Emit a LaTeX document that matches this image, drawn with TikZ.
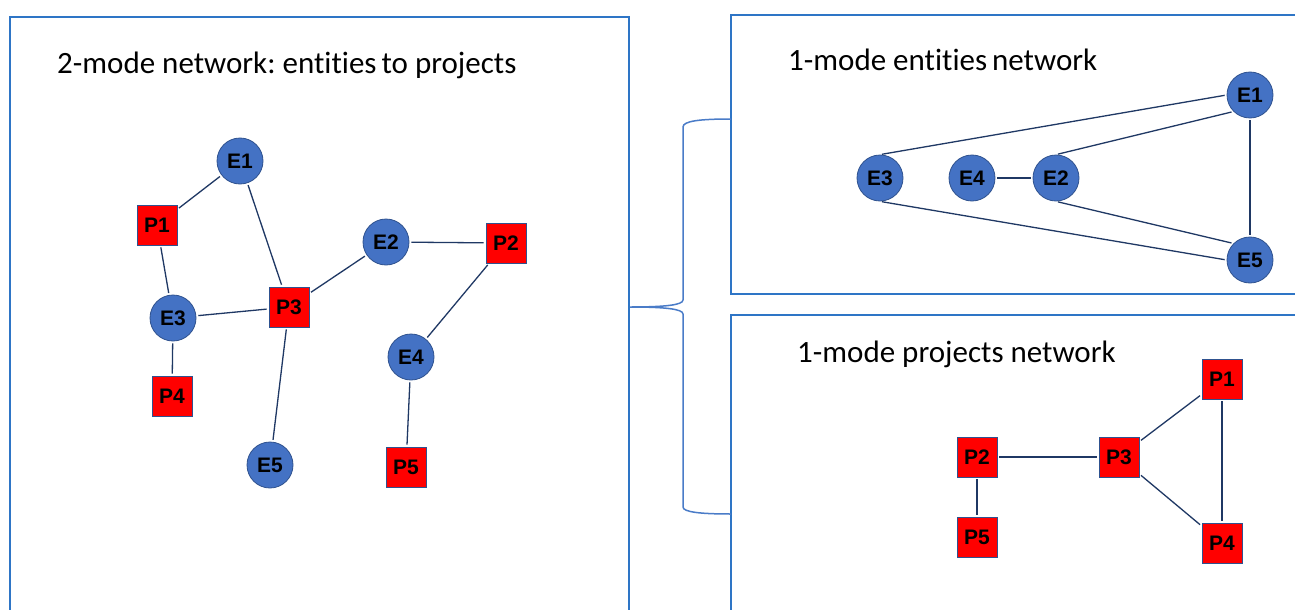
\documentclass[tikz,border=0pt]{standalone}
\usepackage{fontspec}
\setmainfont[Ligatures={NoCommon}]{Carlito}
\newfontfamily\labelfont{Liberation Sans}
\frenchspacing
\definecolor{panelblue}{HTML}{2E75C6}
\definecolor{nodeblue}{HTML}{4472C4}
\definecolor{nodeedge}{HTML}{2F528F}
\definecolor{edgenavy}{HTML}{1F3864}
\definecolor{bracecol}{HTML}{4A7CC8}
\tikzset{labeltext/.style={font={\labelfont\bfseries\fontsize{21}{21}\selectfont}}}
\begin{document}
\begin{tikzpicture}[x=1pt,y=-1pt,
  ent/.style={circle,fill=nodeblue,draw=nodeedge,line width=0.8pt,minimum size=46pt,inner sep=0pt,labeltext},
  proj/.style={rectangle,fill=red,draw=nodeedge,line width=0.8pt,minimum size=40pt,inner sep=0pt,labeltext},
  link/.style={draw=edgenavy,line width=1.3pt,shorten <=2pt,shorten >=2pt},
  panel/.style={draw=panelblue,line width=1.5pt},
  title/.style={anchor=west,inner sep=0pt,font=\fontsize{31}{31}\selectfont}]
\useasboundingbox (0,0) rectangle (1295,610);
\clip (0,0) rectangle (1295,610);
\fill[white] (0,0) rectangle (1295,610);
% panels
\draw[panel] (10,640) -- (10,17) -- (629,17) -- (629,640);
\draw[panel] (731,640) -- (731,315) -- (1320,315);
\draw[panel] (1320,294) -- (731,294) -- (731,15) -- (1320,15);
% brace
\draw[draw=bracecol,line width=1.5pt]
  (731,119) .. controls (700,119) and (683,121) .. (683,127) -- (683,300)
  .. controls (683,305) and (665,307) .. (630,307)
  .. controls (665,307) and (683,309) .. (683,314) -- (683,507)
  .. controls (683,512) and (700,514) .. (731,514);
% titles
\node[title] (t1) at (57,65) {2-mode network: entities\hspace{-2pt} to projects};
\node[title] (t2) at (788,60) {1-mode entities\hspace{-2pt} network};
\node[title] (t3) at (797,354) {1-mode projects network};
% left network
\node[ent] (lE1) at (240,161) {E1};
\node[proj] (lP1) at (157,225) {P1};
\node[ent] (lE3) at (173,318) {E3};
\node[proj] (lP3) at (289,307) {P3};
\node[ent] (lE2) at (386,242) {E2};
\node[proj] (lP2) at (506,243) {P2};
\node[ent] (lE4) at (411,357) {E4};
\node[proj] (lP4) at (172,396) {P4};
\node[ent] (lE5) at (270,465) {E5};
\node[proj] (lP5) at (406,467) {P5};
\path[link] (lE1) -- (lP1);
\path[link] (lE1) -- (lP3);
\path[link] (lP1) -- (lE3);
\path[link] (lE3) -- (lP3);
\path[link] (lP3) -- (lE2);
\path[link] (lE2) -- (lP2);
\path[link] (lP2) -- (lE4);
\path[link] (lE4) -- (lP5);
\path[link] (lP3) -- (lE5);
\path[link] (lE3) -- (lP4);
% top right network
\node[ent] (rE1) at (1250,95) {E1};
\node[ent] (rE3) at (880,178) {E3};
\node[ent] (rE4) at (972,178) {E4};
\node[ent] (rE2) at (1056,178) {E2};
\node[ent] (rE5) at (1250,260) {E5};
\path[link] (rE3.north) -- (rE1.west);
\path[link] (rE2.north) -- (rE1.south west);
\path[link] (rE1) -- (rE5);
\path[link] (rE4) -- (rE2);
\path[link] (rE3.south) -- (rE5.west);
\path[link] (rE2.south) -- (rE5.north west);
% bottom right network
\node[proj] (bP1) at (1222,379) {P1};
\node[proj] (bP2) at (977,457) {P2};
\node[proj] (bP3) at (1119,457) {P3};
\node[proj] (bP5) at (977,537) {P5};
\node[proj] (bP4) at (1222,543) {P4};
\path[link] (bP2) -- (bP3);
\path[link] (bP3) -- (bP1);
\path[link] (bP3) -- (bP4);
\path[link] (bP1) -- (bP4);
\path[link] (bP2) -- (bP5);
\end{tikzpicture}
\end{document}
